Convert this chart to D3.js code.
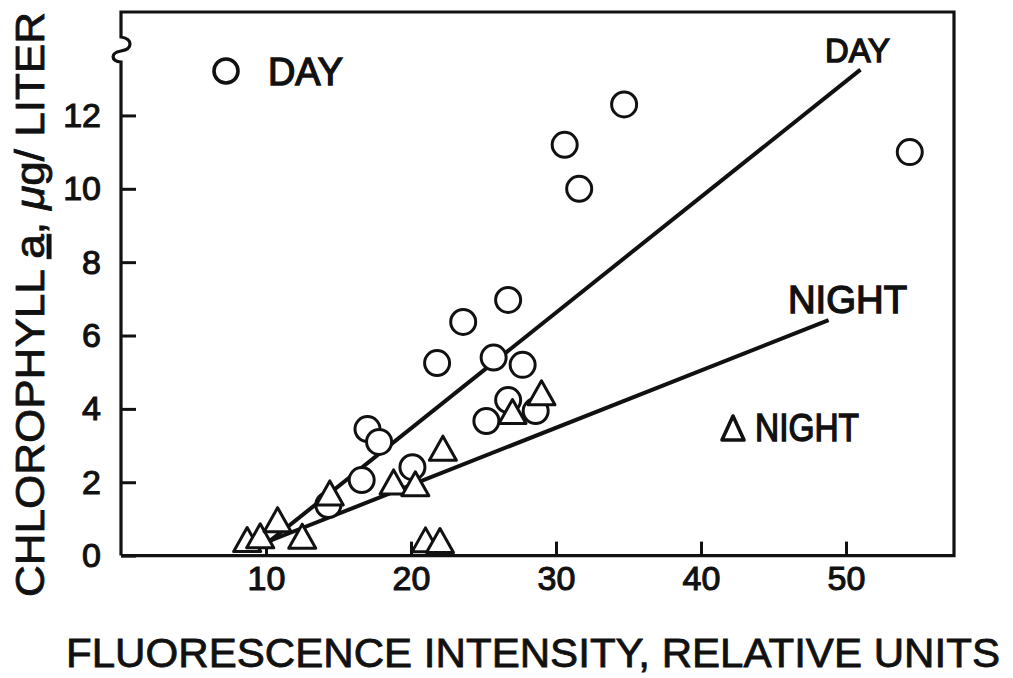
<!DOCTYPE html>
<html><head><meta charset="utf-8">
<script src="https://cdn.jsdelivr.net/npm/d3@7"></script>
<style>
body{margin:0;background:#fff;}
text{font-family:"Liberation Sans","DejaVu Sans",sans-serif;fill:#111;}
</style></head>
<body>
<svg id="chart" width="1013" height="678"></svg>
<script>
// Data
const dayX = [54.4, 34.7, 30.6, 31.6, 26.7, 23.6, 21.8, 25.7, 27.7, 26.7, 25.2, 28.6, 17.0, 17.8, 16.6, 20.1, 14.3];
const dayY = [11.0, 12.3, 11.2, 10.0, 6.97, 6.37, 5.25, 5.4, 5.2, 4.24, 3.67, 3.94, 3.45, 3.1, 2.06, 2.41, 1.38];
const nightX = [8.7, 9.6, 10.8, 12.5, 14.4, 18.8, 20.3, 22.2, 21.0, 22.0, 27.0, 29.0];
const nightY = [0.33, 0.43, 0.87, 0.42, 1.6, 1.9, 1.85, 2.82, 0.32, 0.3, 3.82, 4.33];
const dayLineX = [9.8, 51.0], dayLineY = [0.25, 13.25];
const nightLineX = [9.8, 48.8], nightLineY = [0.33, 6.42];
const xTicks = [10, 20, 30, 40, 50];
const yTicks = [0, 2, 4, 6, 8, 10, 12];

const svg = d3.select("#chart");
const x = d3.scaleLinear().domain([0, 57.45]).range([121, 954]);
const y = d3.scaleLinear().domain([0, 14.82]).range([555.6, 12]);
const ink = "#111";

// frame with axis break on the left
const L = x(0), R = x(57.45), T = y(14.82), B = y(0);
svg.append("path")
  .attr("d", `M${L},${B} L${R},${B} L${R},${T} L${L},${T} L${L},${T+25}
     C${L+12},${T+27} ${L+12},${T+37} ${L},${T+39}
     C${L-11},${T+41} ${L-10},${T+49} ${L},${T+50} L${L},${B}`)
  .attr("fill", "none").attr("stroke", ink).attr("stroke-width", 3.2);

// axes (ticks inward)
const gx = svg.append("g").attr("transform", `translate(0,${B})`)
  .call(d3.axisBottom(x).tickValues(xTicks).tickSizeInner(-14).tickSizeOuter(0).tickPadding(28));
const gy = svg.append("g").attr("transform", `translate(${L},0)`)
  .call(d3.axisLeft(y).tickValues(yTicks).tickSizeInner(-15).tickSizeOuter(0).tickPadding(18));
[gx, gy].forEach(g => {
  g.select(".domain").remove();
  g.selectAll(".tick line").attr("stroke", ink).attr("stroke-width", 3);
  g.selectAll(".tick text").attr("font-size", 34).attr("fill", ink)
   .attr("stroke", ink).attr("stroke-width", 1.1)
   .style("font-family", '"Liberation Sans", sans-serif');
});
gx.selectAll(".tick text").attr("dy", "0.2em");
gy.selectAll(".tick text").attr("dx", "-2");

// regression lines
const line = d3.line().x(d => x(d[0])).y(d => y(d[1]));
svg.append("path").datum(dayLineX.map((v, i) => [v, dayLineY[i]]))
  .attr("d", line).attr("stroke", ink).attr("stroke-width", 4).attr("fill", "none");
svg.append("path").datum(nightLineX.map((v, i) => [v, nightLineY[i]]))
  .attr("d", line).attr("stroke", ink).attr("stroke-width", 4).attr("fill", "none");

// markers
const triPath = (cx, cy) => {
  const w = 13.5, h = 24;
  return `M${cx},${cy - 2*h/3} L${cx + w},${cy + h/3} L${cx - w},${cy + h/3} Z`;
};
svg.append("g").selectAll("circle").data(dayX.map((v, i) => [v, dayY[i]])).join("circle")
  .attr("cx", d => x(d[0])).attr("cy", d => y(d[1])).attr("r", 12.5)
  .attr("fill", "#fff").attr("stroke", ink).attr("stroke-width", 3);
svg.append("g").selectAll("path").data(nightX.map((v, i) => [v, nightY[i]])).join("path")
  .attr("d", d => triPath(x(d[0]), y(d[1])))
  .attr("fill", "#fff").attr("stroke", ink).attr("stroke-width", 3).attr("stroke-linejoin", "round");

// line labels
const bold = sel => sel.attr("stroke", ink).attr("stroke-width", 1.4);
bold(svg.append("text").attr("x", 825).attr("y", 62).attr("font-size", 34)
  .attr("textLength", 65).attr("lengthAdjust", "spacingAndGlyphs").text("DAY"));
bold(svg.append("text").attr("x", 788).attr("y", 313).attr("font-size", 38)
  .attr("textLength", 119).attr("lengthAdjust", "spacingAndGlyphs").text("NIGHT"));

// legend
svg.append("circle").attr("cx", 226).attr("cy", 71).attr("r", 12)
  .attr("fill", "#fff").attr("stroke", ink).attr("stroke-width", 3.6);
bold(svg.append("text").attr("x", 268).attr("y", 85).attr("font-size", 38)
  .attr("textLength", 75).attr("lengthAdjust", "spacingAndGlyphs").text("DAY"));
svg.append("path").attr("d", `M733,416 L744,440 L722,440 Z`)
  .attr("fill", "none").attr("stroke", ink).attr("stroke-width", 3.6).attr("stroke-linejoin", "round");
bold(svg.append("text").attr("x", 755).attr("y", 441).attr("font-size", 38)
  .attr("textLength", 104).attr("lengthAdjust", "spacingAndGlyphs").text("NIGHT"));

// axis titles
svg.append("text").attr("x", 66).attr("y", 667).attr("font-size", 41)
  .attr("stroke", ink).attr("stroke-width", 0.8)
  .attr("textLength", 934).attr("lengthAdjust", "spacingAndGlyphs")
  .text("FLUORESCENCE  INTENSITY,  RELATIVE  UNITS");
const yt = svg.append("text").attr("transform", "translate(44,597) rotate(-90)")
  .attr("font-size", 41).attr("stroke", ink).attr("stroke-width", 0.8)
  .attr("textLength", 585).attr("lengthAdjust", "spacingAndGlyphs");
yt.append("tspan").text("CHLOROPHYLL  ");
yt.append("tspan").attr("text-decoration", "underline").text("a");
yt.append("tspan").text(",  ");
yt.append("tspan").attr("font-style", "italic").text("μ");
yt.append("tspan").text("g/ LITER");
</script>
</body></html>
